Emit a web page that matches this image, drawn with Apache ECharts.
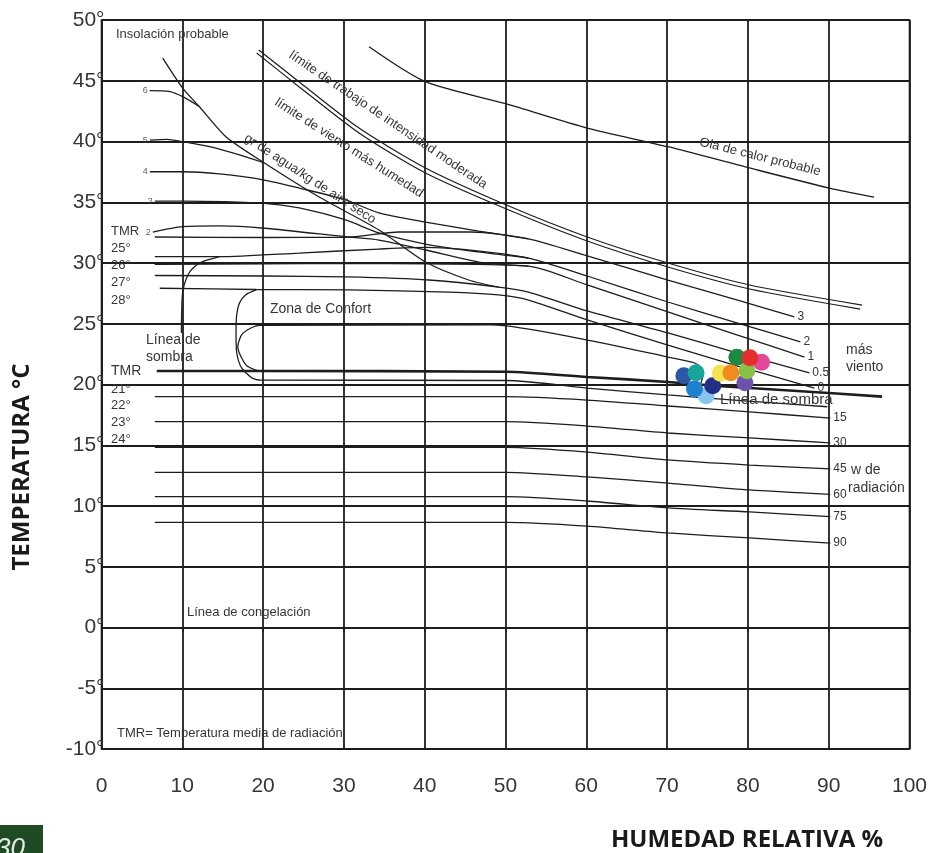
<!DOCTYPE html>
<html>
<head>
<meta charset="utf-8">
<title>Climograma bioclimático</title>
<script src="https://cdn.jsdelivr.net/npm/echarts@6/dist/echarts.min.js"></script>
<style>
  html, body { margin: 0; padding: 0; background: #fff; }
  #chart { width: 930px; height: 853px; }
</style>
</head>
<body>
<div id="chart"></div>
<script>
// ejes
const ticksHumedad = [0, 10, 20, 30, 40, 50, 60, 70, 80, 90, 100];
const ticksTemp = [-10, -5, 0, 5, 10, 15, 20, 25, 30, 35, 40, 45, 50];

const olaDeCalor = [[33.11,47.80],[40.10,44.92],[50.12,43.09],[60.11,41.11],[70.10,39.57],[80.21,37.82],[90.07,36.17],[95.62,35.43]];
const limiteTrabajoA = [[19.46,47.53],[24.48,44.90],[31.87,41.11],[40.10,37.82],[50.12,34.77],[60.11,32.14],[70.10,30.00],[80.21,28.19],[94.14,26.54]];
const limiteTrabajoB = [[19.21,47.28],[24.48,44.49],[31.87,40.70],[40.10,37.41],[50.12,34.44],[60.11,31.81],[70.10,29.67],[80.21,27.86],[93.90,26.21]];
const insolacion = [[7.58,46.87],[10.05,44.40],[12.15,42.84],[15.44,40.37],[20.16,38.23],[26.94,35.43],[34.34,32.72],[40.10,30.08],[45.44,28.60],[49.14,28.02]];

// gr de agua / kg de aire seco
const humedad6 = [[5.98,44.18],[8.45,44.10],[10.05,43.69],[12.15,42.86]];
const humedad5 = [[5.98,40.12],[8.08,40.18],[10.05,39.98],[13.38,39.57],[17.08,38.89],[20.16,38.23]];
const humedad4 = [[5.98,37.51],[10.05,37.51],[14.61,37.33],[20.16,36.83],[24.48,36.17],[30.23,35.19],[34.34,34.12],[40.10,33.37],[46.67,32.63],[52.84,31.98]];
const humedad3 = [[6.60,35.10],[10.05,35.10],[20.16,34.91],[24.48,34.53],[30.23,33.54],[34.34,32.47],[40.10,31.56],[46.67,30.91],[52.84,30.41]];
const humedad2 = [[6.35,32.55],[10.05,32.99],[14.61,33.05],[20.16,32.86],[30.23,32.16],[34.34,31.89],[40.10,31.07],[46.67,30.08],[52.84,29.75]];
const etiquetasHumedad = ['6', '5', '4', '3', '2'];

// más viento (m/s)
const viento3 = [[6.60,32.14],[20.16,32.10],[30.23,32.11],[36.81,32.55],[45.81,32.55],[52.84,31.98],[60.11,30.58],[70.10,28.60],[78.73,26.95],[85.76,25.56]];
const viento2 = [[6.60,30.53],[14.61,30.52],[24.48,30.82],[34.34,31.15],[40.10,31.29],[44.21,31.15],[52.84,30.41],[60.11,28.93],[70.10,26.79],[78.73,25.06],[86.50,23.50]];
const viento1 = [[6.60,29.88],[20.16,29.92],[30.23,29.96],[40.51,29.92],[52.84,29.75],[60.11,28.19],[70.10,25.97],[78.73,24.07],[87.00,22.26]];
const viento05 = [[6.60,28.97],[20.16,28.93],[30.23,28.85],[40.51,28.60],[49.14,28.02],[52.84,27.61],[60.11,26.05],[70.10,24.24],[78.73,22.59],[87.61,20.95]];
const viento0 = [[7.21,27.92],[19.14,27.82],[30.64,27.78],[42.97,27.61],[49.14,27.37],[52.84,26.95],[60.11,25.31],[70.10,23.25],[78.73,21.52],[88.23,19.71]];
const etiquetasViento = ['3', '2', '1', '0.5', '0'];

// zona de confort y líneas de sombra
const sombraSuperior = [[9.89,24.24],[9.93,26.13],[10.09,27.78],[10.91,29.26],[12.15,30.00],[14.61,30.52]];
const confortExterior = [[19.14,27.78],[17.82,27.37],[17.08,26.71],[16.71,25.58],[16.65,24.07],[16.74,22.59],[17.20,21.52],[17.90,20.95],[18.68,20.53],[19.54,20.37],[50.12,20.33],[60.11,19.71],[70.10,19.14],[79.96,18.64],[89.83,18.17]];
const confortInterior = [[74.17,20.12],[74.42,20.70],[74.17,21.36],[73.43,21.77],[70.10,22.26],[60.11,23.66],[48.27,24.90],[19.54,24.86],[17.48,24.21],[16.87,23.11],[17.90,21.60],[19.54,21.11]];
const lineaSombra = [[6.84,21.11],[19.54,21.11],[50.12,21.05],[60.11,20.62],[70.10,20.21],[76.26,19.88],[86.13,19.47],[96.61,19.00]];

// w de radiación
const radiacion15 = [[6.60,19.00],[50.12,19.00],[60.11,18.72],[70.10,18.23],[80.21,17.74],[90.20,17.24]];
const radiacion30 = [[6.60,16.94],[50.12,16.94],[60.11,16.58],[70.10,16.01],[80.21,15.60],[90.20,15.19]];
const radiacion45 = [[6.60,14.83],[50.12,14.83],[60.11,14.44],[70.10,13.79],[80.21,13.37],[90.20,13.05]];
const radiacion60 = [[6.60,12.77],[50.12,12.77],[60.11,12.39],[70.10,11.89],[80.21,11.32],[90.20,10.95]];
const radiacion75 = [[6.60,10.77],[50.12,10.77],[60.11,10.41],[70.10,9.84],[80.21,9.51],[90.20,9.12]];
const radiacion90 = [[6.60,8.66],[50.12,8.66],[60.11,8.35],[70.10,7.78],[80.21,7.37],[90.20,6.95]];
const etiquetasRadiacion = ['15', '30', '45', '60', '75', '90'];

// puntos de los meses
const puntos = [[72.07,20.72],[74.82,19.08],[73.39,19.63],[73.59,20.97],[75.65,19.90],[76.60,20.92],[77.90,20.97],[79.63,20.15],[79.88,21.14],[78.64,22.24],[81.69,21.83],[80.25,22.21]];
const coloresPuntos = ['#2c57a7', '#86c6ee', '#1f82d0', '#17a59b', '#222f82', '#f6e24f', '#f28b1d', '#6b52ad', '#8bc048', '#1c8b41', '#e5489b', '#e3302c'];

const FONT = '"Liberation Sans", Arial, sans-serif';
const INK = '#1d1d1d';
const TXT = '#363636';

function curva(data, etiqueta, ancho) {
  const s = {
    type: 'line',
    data: data,
    symbol: 'none',
    showSymbol: false,
    smooth: 0.25,
    silent: true,
    z: 3,
    lineStyle: { color: INK, width: ancho || 1.3 }
  };
  if (etiqueta) {
    s.endLabel = {
      show: true, formatter: etiqueta, distance: 3,
      fontFamily: FONT, fontSize: 12, color: TXT
    };
  }
  return s;
}

function texto(t, x, y, size) {
  return {
    type: 'text', x: x, y: y, z: 10,
    style: {
      text: t, fill: TXT, fontFamily: FONT, fontSize: size,
      align: 'left', verticalAlign: 'middle',
      textAlign: 'left', textVerticalAlign: 'middle'
    }
  };
}

function rotado(t, x, y, grados) {
  return {
    type: 'text', x: x, y: y, rotation: -grados * Math.PI / 180, z: 10,
    style: {
      text: t, fill: TXT, fontFamily: FONT, fontSize: 13,
      align: 'center', verticalAlign: 'middle',
      textAlign: 'center', textVerticalAlign: 'middle'
    }
  };
}

function titulo(t, x, y, rot) {
  return {
    type: 'text', x: x, y: y, rotation: rot, z: 10,
    style: {
      text: t, fill: '#1a1a1a',
      fontFamily: '"Open Sans", sans-serif', fontWeight: 'bold', fontSize: 24,
      align: 'center', verticalAlign: 'middle', textAlign: 'center', textVerticalAlign: 'middle'
    }
  };
}

const chart = echarts.init(document.getElementById('chart'));

const series = [
  curva(olaDeCalor),
  curva(limiteTrabajoA, null, 1.2),
  curva(limiteTrabajoB, null, 1.2),
  curva(insolacion),
  curva(humedad6), curva(humedad5), curva(humedad4), curva(humedad3), curva(humedad2),
  curva(viento3, etiquetasViento[0]),
  curva(viento2, etiquetasViento[1]),
  curva(viento1, etiquetasViento[2]),
  curva(viento05, etiquetasViento[3]),
  curva(viento0, etiquetasViento[4]),
  curva(sombraSuperior),
  curva(confortExterior),
  curva(confortInterior),
  curva(lineaSombra, null, 2.6)
];

[radiacion15, radiacion30, radiacion45, radiacion60, radiacion75, radiacion90].forEach(function (r, i) {
  series.push(curva(r, etiquetasRadiacion[i]));
});

// etiquetas pequeñas de gr de agua al inicio de cada curva
series.push({
  type: 'scatter',
  silent: true,
  symbolSize: 0,
  z: 5,
  data: [humedad6, humedad5, humedad4, humedad3, humedad2].map(function (c, i) {
    return { value: c[0], name: etiquetasHumedad[i] };
  }),
  label: {
    show: true, position: 'left', distance: 2, formatter: '{b}',
    fontFamily: FONT, fontSize: 9, color: TXT
  }
});

series.push({
  type: 'scatter',
  silent: true,
  symbolSize: 17,
  z: 6,
  data: puntos,
  itemStyle: {
    opacity: 1,
    color: function (p) { return coloresPuntos[p.dataIndex]; }
  }
});

chart.setOption({
  animation: false,
  backgroundColor: '#ffffff',
  grid: {
    left: 101.5, right: 17.5, top: 20, bottom: 104,
    show: true, borderColor: INK, borderWidth: 1.6
  },
  xAxis: {
    type: 'value',
    min: ticksHumedad[0], max: ticksHumedad[ticksHumedad.length - 1], interval: 10,
    axisLine: { show: true, lineStyle: { color: INK, width: 1.6 } },
    axisTick: { show: true, length: 5, lineStyle: { color: INK, width: 1.6 } },
    splitLine: { show: true, lineStyle: { color: INK, width: 1.8 } },
    axisLabel: { fontFamily: FONT, fontSize: 21, color: TXT, margin: 27 }
  },
  yAxis: {
    type: 'value',
    min: ticksTemp[0], max: ticksTemp[ticksTemp.length - 1], interval: 5,
    axisLine: { show: true, lineStyle: { color: INK, width: 1.6 } },
    axisTick: { show: false },
    splitLine: { show: true, lineStyle: { color: INK, width: 1.8 } },
    axisLabel: {
      fontFamily: FONT, fontSize: 21, color: TXT, margin: -3,
      formatter: function (v) { return v + '°'; }
    }
  },
  graphic: [
    texto('Insolación probable', 116, 34, 13),
    rotado('límite de trabajo de intensidad moderada', 388, 120, 34),
    rotado('límite de viento más humedad', 349, 148, 32.5),
    rotado('gr de agua/kg de aire seco', 310, 179, 33),
    rotado('Ola de calor probable', 760, 157, 14),
    texto('TMR', 111, 231, 13),
    texto('25°', 111, 248, 13),
    texto('26°', 111, 265, 13),
    texto('27°', 111, 282, 13),
    texto('28°', 111, 300, 13),
    texto('Zona de Confort', 270, 309, 14),
    texto('Línea de', 146, 340, 14),
    texto('sombra', 146, 357, 14),
    texto('TMR', 111, 371, 14),
    texto('21°', 111, 389, 13),
    texto('22°', 111, 405, 13),
    texto('23°', 111, 422, 13),
    texto('24°', 111, 439, 13),
    texto('Línea de sombra', 720, 400, 15),
    texto('más', 846, 350, 14),
    texto('viento', 846, 367, 14),
    texto('w de', 851, 470, 14),
    texto('radiación', 848, 488, 14),
    texto('Línea de congelación', 187, 612, 13),
    texto('TMR= Temperatura media de radiación', 117, 733, 13),
    titulo('HUMEDAD RELATIVA %', 747, 840, 0),
    titulo('TEMPERATURA °C', 22, 467, Math.PI / 2),
    {
      type: 'rect', shape: { x: 0, y: 825, width: 43, height: 28 }, z: 10,
      style: { fill: '#1f4b24' }
    },
    {
      type: 'text', x: -4, y: 836, z: 11,
      style: {
        text: '30', fill: '#e4ece4', fontFamily: FONT, fontStyle: 'italic', fontSize: 26,
        align: 'left', verticalAlign: 'top', textAlign: 'left', textVerticalAlign: 'top'
      }
    }
  ],
  series: series
});
</script>
</body>
</html>
